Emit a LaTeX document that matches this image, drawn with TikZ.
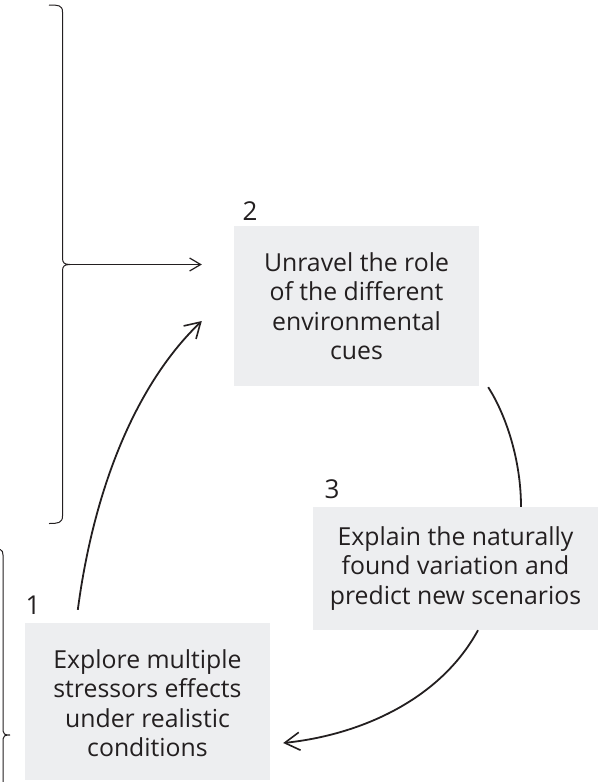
\documentclass[tikz,border=0pt]{standalone}
\usepackage{fontspec}
\setmainfont{Open Sans}
\usetikzlibrary{arrows.meta,calc}
\definecolor{ink}{HTML}{231F20}
\definecolor{panel}{HTML}{EDEEF0}
\begin{document}
\begin{tikzpicture}[x=1pt,y=-1pt,
  stagebox/.style={fill=panel,draw=none,inner sep=0pt,align=center,text=ink,
    font=\fontsize{24.8}{29.5}\selectfont},
  stagenum/.style={text=ink,inner sep=0pt,font=\fontsize{26}{26}\selectfont},
  bracket/.style={draw=ink,line width=1pt},
  flow/.style={draw=ink,line width=1.8pt,-{Straight Barb[length=15pt,width=18pt,line width=1.6pt]}},
  feed/.style={draw=ink,line width=1.3pt,-{Straight Barb[length=11pt,width=13pt,line width=1.2pt]}}]
\useasboundingbox (0,0) rectangle (599,782);

% the three stages (stage 1 text sits a little low in its panel)
\node[stagebox,minimum width=245pt,minimum height=157pt] (b1) at (147.5,701.5)
  {\\[-7pt]Explore multiple\\stressors effects\\under realistic\\conditions};
\node[stagebox,minimum width=245pt,minimum height=160pt] (b2) at (356.5,306)
  {Unravel the role\\of the different\\environmental\\cues};
\node[stagebox,minimum width=285pt,minimum height=123pt] (b3) at (455.5,568.5)
  {Explain the naturally\\found variation and\\predict new scenarios};

\node[stagenum] (n1) at (33,605) {1};
\node[stagenum] (n2) at (250,211) {2};
\node[stagenum] (n3) at (332,489) {3};

% bracket spanning the upper left, with its point feeding stage 2
\draw[bracket] (49,5) .. controls (58,5) and (62.5,5) .. (62.5,12)
  -- (62.5,258) .. controls (62.5,262.5) and (64,264.5) .. (70,264.5) coordinate (tip)
  .. controls (64,264.5) and (62.5,266.5) .. (62.5,271)
  -- (62.5,516) .. controls (62.5,523) and (58,523.5) .. (49,523.5);
\draw[feed,shorten >=32pt] (tip) -- (b2.west |- tip);

% bracket at the lower left edge
\draw[bracket] (-8,549) .. controls (0,549) and (3,549) .. (3,555)
  -- (3,731) .. controls (3,734) and (5,735) .. (10,735) coordinate (tip2)
  .. controls (5,735) and (3,736) .. (3,739) -- (3,790);

% cycle between the stages
\coordinate (s1) at ($(b1.north west)+(53,-13)$);
\coordinate (e1) at ($(b2.west)+(-32,15)$);
\draw[flow] (s1) .. controls (95,480) and (140,380) .. (e1);

\coordinate (s2) at ($(b2.south east)+(9,1)$);
\coordinate (e2) at (b3.north -| 521,0);
\draw[flow,-] (s2) .. controls (506,415) and (521,460) .. (e2);

\coordinate (s3) at (b3.south -| 478,0);
\coordinate (e3) at ($(b1.east)+(13,41.5)$);
\draw[flow] (s3) .. controls (440,700) and (360,735) .. (e3);
\end{tikzpicture}
\end{document}
